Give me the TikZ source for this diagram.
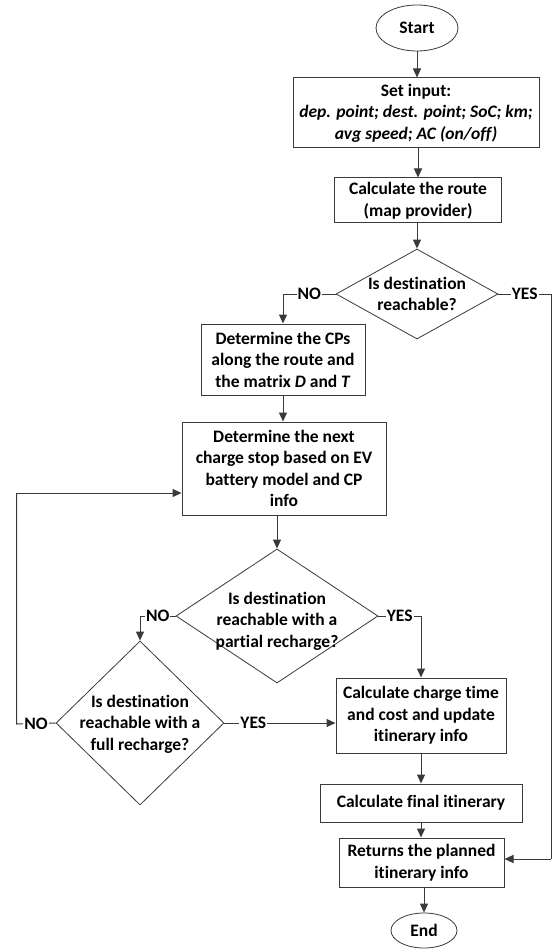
\documentclass[tikz,border=0pt]{standalone}
\usepackage{fontspec}
\setmainfont{Carlito}[Ligatures=NoCommon]
\usetikzlibrary{shapes.geometric,arrows.meta}
\definecolor{ln}{HTML}{3A3A3A}
\tikzset{
  base/.style={font=\bfseries\fontsize{17.5}{21.5}\selectfont, text=black, align=center},
  box/.style={base, draw=ln, line width=1pt, rectangle, inner sep=0pt},
  oval/.style={base, draw=ln, line width=0.8pt, ellipse, inner sep=0pt},
  dia/.style={draw=ln, line width=0.8pt, diamond, inner sep=0pt},
  txt/.style={base, inner sep=0pt},
  lbl/.style={base, fill=white, inner sep=1pt},
  conn/.style={draw=ln, line width=1pt, -{Triangle[length=9pt,width=8pt]}},
  plain/.style={draw=ln, line width=1pt}
}
\begin{document}
\begin{tikzpicture}[x=1pt,y=-1pt]
\useasboundingbox (0,0) rectangle (552,949);
\fill[white] (0,0) rectangle (552,949);

\node[oval, minimum width=82, minimum height=46] (start) at (417,28) {Start};
\node[box, minimum width=246, minimum height=70] (set) at (416,113) {Set input:\\\itshape dep. point; dest. point; SoC; km;\\\itshape avg speed; AC (on/off)};
\node[box, minimum width=167, minimum height=45] (route) at (418,200.5) {Calculate the route\\(map provider)};
\node[dia, minimum width=162, minimum height=90] (d1) at (417,294) {};
\node[txt] (d1t) at (417,294) {Is destination\\reachable?};
\node[box, minimum width=164, minimum height=71] (cps) at (283,359.5) {Determine the CPs\\along the route and\\the matrix \textit{D} and \textit{T}};
\node[box, minimum width=204, minimum height=93] (next) at (284,468.5) {Determine the next\\charge stop based on EV\\battery model and CP\\info};
\node[dia, minimum width=202, minimum height=134] (d2) at (277,616) {};
\node[txt] (d2t) at (277,621) {Is destination\\reachable with a\\partial recharge?};
\node[dia, minimum width=168, minimum height=164] (d3) at (140,723) {};
\node[txt] (d3t) at (140,724) {Is destination\\reachable with a\\full recharge?};
\node[box, minimum width=170, minimum height=75] (calc) at (421,715.5) {Calculate charge time\\and cost and update\\itinerary info};
\node[box, minimum width=202, minimum height=38] (final) at (421,803) {Calculate final itinerary};
\node[box, minimum width=165, minimum height=49] (ret) at (421.5,862.5) {Returns the planned\\itinerary info};
\node[oval, minimum width=66, minimum height=35] (end) at (424,930.5) {End};

\coordinate (c1) at (551,294);
\coordinate (c2) at (551,859);
\coordinate (c3) at (16.5,724);
\coordinate (c4) at (16.5,493);

\draw[conn] (start.south) -- (start.south |- set.north);
\draw[conn] (route.north |- set.south) -- (route.north);
\draw[conn] (route.south) -- (route.south -| d1.north) -- (d1.north);
\draw[conn] (d1.west) -- node[lbl]{NO} (d1.west -| cps.north) -- (cps.north);
\draw[plain] (d1.east) -- node[lbl]{YES} (c1) -- (c2);
\draw[conn] (c2) -- (c2 -| ret.east);
\draw[conn] (cps.south) -- (cps.south |- next.north);
\draw[conn] (d2.north |- next.south) -- (d2.north);
\draw[conn] (d2.west) -- node[lbl]{NO} (d2.west -| d3.north) -- (d3.north);
\draw[conn] (d2.east) -- node[lbl]{YES} (d2.east -| calc.north) -- (calc.north);
\draw[conn] (d3.east) -- node[lbl, pos=0.26]{YES} (d3.east -| calc.west);
\draw[plain] (d3.west) -- node[lbl]{NO} (c3) -- (c4);
\draw[conn] (c4) -- (c4 -| next.west);
\draw[conn] (calc.south) -- (calc.south |- final.north);
\draw[conn] (final.south) -- (final.south |- ret.north);
\draw[conn] (end.north |- ret.south) -- (end.north);
\end{tikzpicture}
\end{document}
